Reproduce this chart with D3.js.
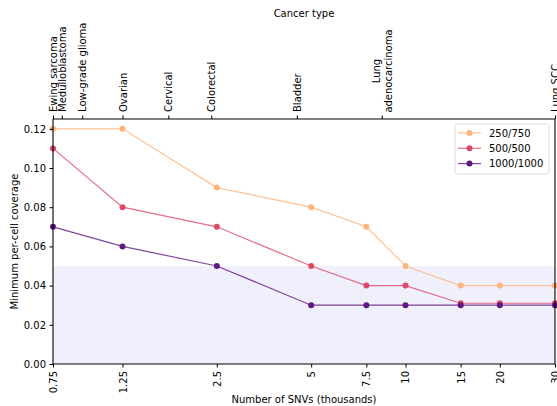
<!DOCTYPE html>
<html lang="en">
<head>
<meta charset="UTF-8">
<title>Minimum per-cell coverage</title>
<script src="https://cdn.jsdelivr.net/npm/d3@7"></script>
<style>
  body { margin: 0; padding: 0; overflow: hidden; background: #fff; }
  svg { display: block; font-family: "DejaVu Sans", sans-serif; }
</style>
</head>
<body>
<svg id="chart" width="557" height="406"></svg>
<script>
// data
var snvs = [0.75, 1.25, 2.5, 5, 7.5, 10, 15, 20, 30];
var snvLabels = ["0.75", "1.25", "2.5", "5", "7.5", "10", "15", "20", "30"];
var cov250 = [0.12, 0.12, 0.09, 0.08, 0.07, 0.05, 0.04, 0.04, 0.04];
var cov500 = [0.11, 0.08, 0.07, 0.05, 0.04, 0.04, 0.031, 0.031, 0.031];
var cov1000 = [0.07, 0.06, 0.05, 0.03, 0.03, 0.03, 0.03, 0.03, 0.03];
var seriesNames = ["250/750", "500/500", "1000/1000"];
var cancerNames = ["Ewing sarcoma", "Medulloblastoma", "Low-grade glioma", "Ovarian", "Cervical",
                   "Colorectal", "Bladder", "Lung\nadenocarcinoma", "Lung SCC"];
var cancerSnvs = [0.75, 0.8, 0.93, 1.25, 1.75, 2.4, 4.5, 8.4, 30];
var yTicks = [0, 0.02, 0.04, 0.06, 0.08, 0.10, 0.12];
var shadeMax = 0.05;

var colors = ["#fdb47b", "#de4968", "#5f187f"];
var allSeries = [cov250, cov500, cov1000];

// plot box (note: "top" would clash with window.top)
var pLeft = 53, pRight = 555, pTop = 119, pBottom = 364;
var svg = d3.select("#chart");

var x = d3.scaleLog().domain([0.75, 30]).range([pLeft, pRight]);
var y = d3.scaleLinear().domain([0, 0.125]).range([pBottom, pTop]);

// shaded band below 0.05
svg.append("rect")
  .attr("x", pLeft).attr("y", y(shadeMax))
  .attr("width", pRight - pLeft).attr("height", pBottom - y(shadeMax))
  .attr("fill", "#f0f0fc");

// lines and markers
var line = d3.line().x(function (d, i) { return x(snvs[i]); }).y(function (d) { return y(d); });
allSeries.forEach(function (vals, k) {
  svg.append("path")
    .attr("d", line(vals))
    .attr("fill", "none")
    .attr("stroke", colors[k])
    .attr("stroke-opacity", 0.8)
    .attr("stroke-width", 1.2);
  svg.selectAll(null).data(vals).enter().append("circle")
    .attr("cx", function (d, i) { return x(snvs[i]); })
    .attr("cy", function (d) { return y(d); })
    .attr("r", 3)
    .attr("fill", colors[k]);
});

// bottom axis
var xAxis = d3.axisBottom(x).tickValues(snvs)
  .tickFormat(function (d, i) { return snvLabels[i]; })
  .tickSizeOuter(0).tickSizeInner(3.5).tickPadding(3.5);
var gx = svg.append("g").attr("transform", "translate(0," + pBottom + ")").call(xAxis);
gx.selectAll("text")
  .attr("transform", "rotate(-90)")
  .attr("x", -7).attr("y", 0).attr("dy", "0.35em")
  .style("text-anchor", "end");

// top axis with cancer types
var topAxis = d3.axisTop(x).tickValues(cancerSnvs)
  .tickFormat(function (d, i) { return cancerNames[i]; })
  .tickSizeOuter(0).tickSizeInner(3.5);
var gt = svg.append("g").attr("transform", "translate(0," + pTop + ")").call(topAxis);
gt.selectAll("text").each(function (d, i) {
  var t = d3.select(this).text(null)
    .attr("transform", "rotate(-90)")
    .attr("x", 0).attr("y", 0).attr("dy", null)
    .style("text-anchor", "start");
  var parts = cancerNames[i].split("\n");
  if (parts.length === 1) {
    t.attr("x", 7).attr("y", 0).attr("dy", "0.35em").text(parts[0]);
  } else {
    // two line label, lines centred against each other
    t.style("text-anchor", "middle");
    parts.forEach(function (p, j) {
      t.append("tspan")
        .attr("x", 7 + 41)
        .attr("y", (j - 0.5) * 12)
        .attr("dy", "0.35em")
        .text(p);
    });
  }
});

// left axis
var yAxis = d3.axisLeft(y).tickValues(yTicks)
  .tickFormat(d3.format(".2f"))
  .tickSizeOuter(0).tickSizeInner(3.5).tickPadding(3.5);
var gy = svg.append("g").attr("transform", "translate(" + pLeft + ",0)").call(yAxis);

// right spine
svg.append("line").attr("x1", pRight).attr("x2", pRight).attr("y1", pTop).attr("y2", pBottom)
  .attr("stroke", "#000").attr("stroke-width", 1.1);

svg.selectAll(".domain").attr("stroke", "#000").attr("stroke-width", 1.1);
svg.selectAll(".tick line").attr("stroke", "#000");
svg.selectAll(".tick text").attr("font-size", 10).attr("font-family", "DejaVu Sans").attr("fill", "#000");
gx.select(".domain").attr("d", "M" + pLeft + ",0H" + pRight);
gt.select(".domain").attr("d", "M" + pLeft + ",0H" + pRight);
gy.select(".domain").attr("d", "M0," + pTop + "V" + pBottom);

// titles
svg.append("text").attr("x", (pLeft + pRight) / 2).attr("y", 17)
  .attr("text-anchor", "middle").attr("font-size", 10).text("Cancer type");
svg.append("text").attr("x", (pLeft + pRight) / 2).attr("y", 403)
  .attr("text-anchor", "middle").attr("font-size", 10).text("Number of SNVs (thousands)");
svg.append("text").attr("transform", "translate(18," + (pTop + pBottom) / 2 + ") rotate(-90)")
  .attr("text-anchor", "middle").attr("font-size", 10).text("Minimum per-cell coverage");

// legend
var lg = svg.append("g").attr("transform", "translate(455,124)");
lg.append("rect").attr("width", 94).attr("height", 50).attr("rx", 2)
  .attr("fill", "#fff").attr("fill-opacity", 0.8).attr("stroke", "#d6d6d6").attr("stroke-width", 0.8);
seriesNames.forEach(function (name, k) {
  var yy = 9 + k * 15.3;
  lg.append("line").attr("x1", 3).attr("x2", 26).attr("y1", yy).attr("y2", yy)
    .attr("stroke", colors[k]).attr("stroke-opacity", 0.8).attr("stroke-width", 1.2);
  lg.append("circle").attr("cx", 14.5).attr("cy", yy).attr("r", 3).attr("fill", colors[k]);
  lg.append("text").attr("x", 34).attr("y", yy).attr("dy", "0.35em")
    .attr("font-size", 10).text(name);
});
</script>
</body>
</html>
